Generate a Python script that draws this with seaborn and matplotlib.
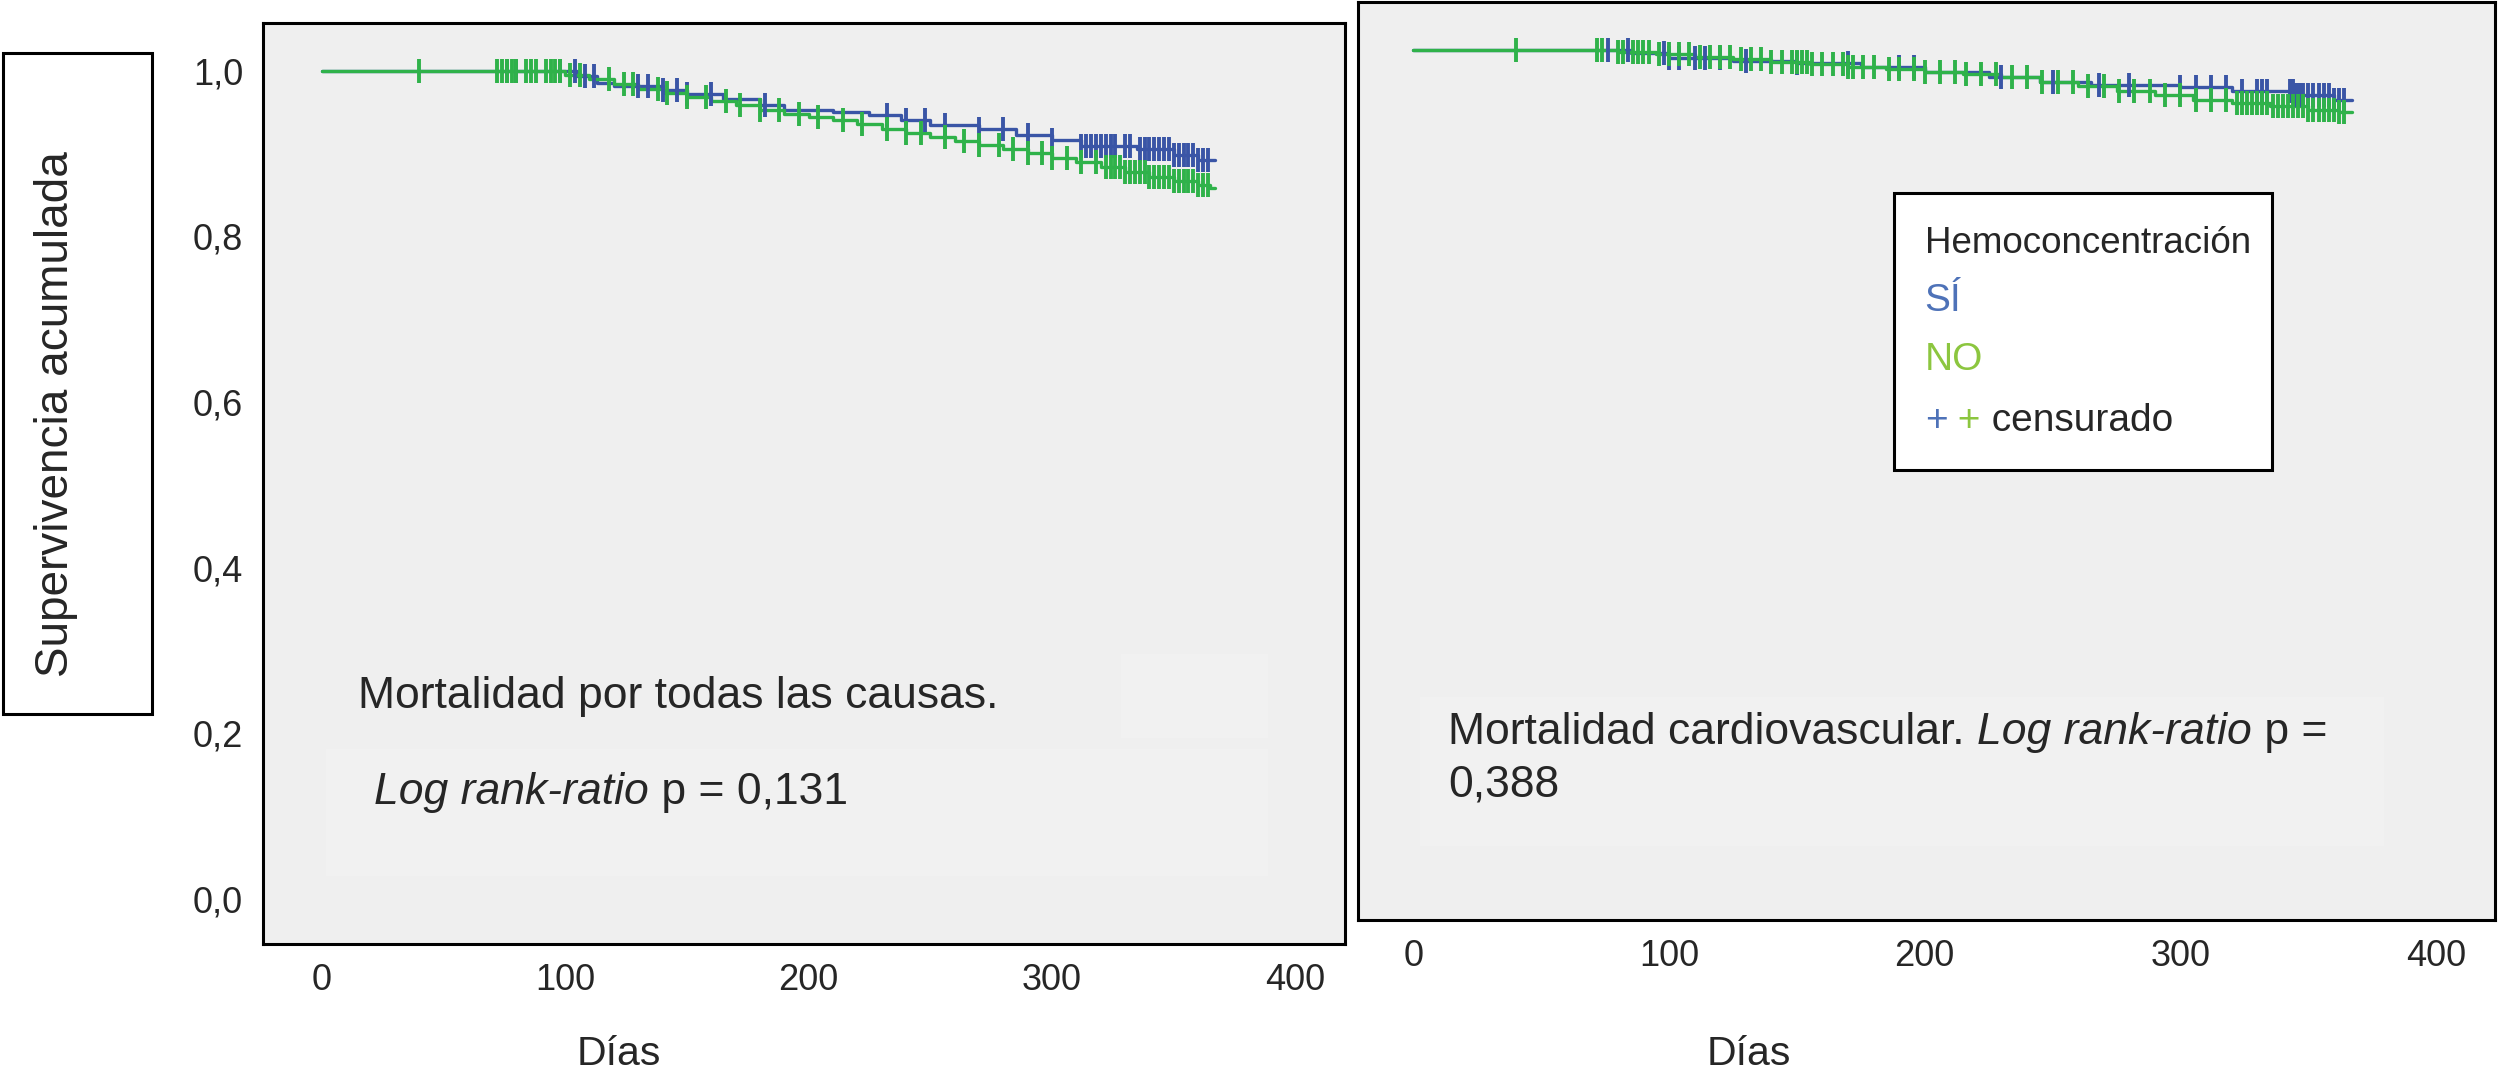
import numpy as np
import pandas as pd
import seaborn as sns
import matplotlib.pyplot as plt
from matplotlib.patches import Rectangle

sns.set_style("white")
plt.rcParams["font.family"] = ["Liberation Sans", "DejaVu Sans"]

# --- data (days, cumulative survival) ---
# panel 1: all-cause mortality
ALL_SI_T = [0, 105, 113, 120, 140, 150, 165, 180, 190, 210, 225, 238, 250, 270, 285, 300, 312, 335, 350, 360, 367]
ALL_SI_S = [1.0, 0.993, 0.985, 0.981, 0.977, 0.972, 0.966, 0.958, 0.952, 0.950, 0.946, 0.940, 0.934, 0.930,
            0.922, 0.916, 0.909, 0.905, 0.898, 0.892, 0.892]
ALL_NO_T = [0, 100, 110, 120, 130, 140, 150, 160, 170, 180, 190, 200, 210, 220, 230, 240, 250, 260, 270,
            280, 290, 300, 310, 320, 330, 340, 350, 360, 365, 367]
ALL_NO_S = [1.0, 0.995, 0.990, 0.984, 0.978, 0.973, 0.968, 0.963, 0.958, 0.953, 0.948, 0.944, 0.940, 0.935,
            0.930, 0.925, 0.920, 0.915, 0.910, 0.905, 0.900, 0.895, 0.890, 0.884, 0.878, 0.872, 0.867,
            0.862, 0.858, 0.858]
ALL_SI_CENS = [76, 80, 98, 104, 108, 112, 130, 134, 140, 146, 150, 160, 182, 232, 240, 248, 256, 270, 280,
               290, 300, 312, 314, 316, 318, 320, 322, 324, 326, 330, 332, 336, 338, 340, 342, 344, 346,
               348, 350, 352, 354, 356, 358, 360, 362, 364]
ALL_NO_CENS = [40, 72, 74, 76, 78, 80, 84, 86, 88, 92, 94, 96, 98, 102, 106, 118, 124, 128, 138, 142, 150,
               158, 166, 172, 180, 188, 196, 204, 214, 222, 232, 240, 246, 256, 264, 270, 278, 284, 290,
               296, 300, 306, 312, 318, 322, 324, 326, 328, 330, 332, 334, 336, 338, 340, 342, 344, 346,
               348, 350, 352, 354, 356, 358, 360, 362, 364]

# panel 2: cardiovascular mortality
CV_SI_T = [0, 85, 100, 125, 150, 175, 200, 225, 245, 265, 300, 320, 345, 360, 367]
CV_SI_S = [1.0, 0.996, 0.991, 0.987, 0.984, 0.979, 0.974, 0.968, 0.962, 0.958, 0.955, 0.951, 0.946,
           0.940, 0.940]
CV_NO_T = [0, 80, 95, 110, 125, 140, 155, 170, 185, 200, 215, 230, 245, 260, 275, 290, 305, 320, 335,
           350, 362, 367]
CV_NO_S = [1.0, 0.998, 0.995, 0.992, 0.989, 0.986, 0.983, 0.980, 0.977, 0.974, 0.971, 0.967, 0.962,
           0.957, 0.951, 0.946, 0.940, 0.936, 0.932, 0.928, 0.925, 0.925]
CV_SI_CENS = [76, 84, 98, 100, 104, 110, 114, 120, 130, 150, 170, 190, 196, 230, 250, 268, 280, 300, 306,
              312, 318, 324, 330, 332, 334, 343, 344, 345, 346, 347, 348, 350, 352, 354, 356, 358, 360,
              362, 364]
CV_NO_CENS = [40, 72, 74, 80, 82, 86, 88, 90, 92, 96, 100, 104, 108, 112, 116, 120, 124, 128, 132, 136,
              140, 144, 148, 150, 152, 154, 156, 160, 164, 168, 170, 172, 176, 180, 186, 190, 196, 200,
              206, 212, 216, 222, 228, 234, 240, 246, 252, 258, 264, 270, 276, 282, 288, 294, 300, 306,
              312, 318, 322, 324, 326, 328, 330, 332, 334, 336, 338, 340, 342, 344, 346, 348, 350, 352,
              354, 356, 358, 360, 362, 364]

BLUE = "#3a55a6"
GREEN = "#2fb24a"
LEG_BLUE = "#4e72b8"
LEG_GREEN = "#8cc63f"
PANEL_BG = "#efefef"
BOX_BG = "#f1f1f1"


def surv_at(t, times, surv):
    idx = np.searchsorted(times, t, side="right") - 1
    return np.asarray(surv)[idx]


def km_panel(ax, curves):
    ax.set_facecolor(PANEL_BG)
    for times, surv, cens, color in curves:
        line = pd.DataFrame({"t": times, "s": surv})
        sns.lineplot(data=line, x="t", y="s", color=color, drawstyle="steps-post",
                     estimator=None, sort=False, linewidth=2.4, ax=ax)
        marks = pd.DataFrame({"t": cens, "s": surv_at(cens, times, surv)})
        sns.scatterplot(data=marks, x="t", y="s", color=color, marker="|", s=300,
                        linewidth=2.8, ax=ax, zorder=3)
    ax.set_xlabel("")
    ax.set_ylabel("")
    for sp in ax.spines.values():
        sp.set_visible(True)
        sp.set_linewidth(2.2)
        sp.set_color("black")


fig = plt.figure(figsize=(25, 10.76), dpi=100)

ax1 = fig.add_axes([0.105, 0.123, 0.433, 0.856])
ax2 = fig.add_axes([0.543, 0.145, 0.455, 0.853])

km_panel(ax1, [(ALL_SI_T, ALL_SI_S, ALL_SI_CENS, BLUE), (ALL_NO_T, ALL_NO_S, ALL_NO_CENS, GREEN)])
km_panel(ax2, [(CV_SI_T, CV_SI_S, CV_SI_CENS, BLUE), (CV_NO_T, CV_NO_S, CV_NO_CENS, GREEN)])

yt = [0.0, 0.2, 0.4, 0.6, 0.8, 1.0]
ax1.set_xlim(-24.3, 420.3)
ax1.set_ylim(-0.054, 1.058)
ax1.set_yticks(yt)
ax1.set_yticklabels([f"{v:.1f}".replace(".", ",") for v in yt])
ax1.set_xticks([0, 100, 200, 300, 400])
ax1.tick_params(axis="both", direction="out", length=9, width=2, labelsize=26, pad=5)

ax2.set_xlim(-21.8, 423.0)
ax2.set_ylim(-0.052, 1.058)
ax2.set_yticks(yt)
ax2.set_yticklabels([])
ax2.set_xticks([0, 100, 200, 300, 400])
ax2.tick_params(axis="x", direction="out", length=9, width=2, labelsize=26, pad=5)
ax2.tick_params(axis="y", direction="out", length=6, width=2)

# faint text boxes behind the annotations
ax1.add_patch(Rectangle((0.059, 0.073), 0.87, 0.138, transform=ax1.transAxes,
                        facecolor=BOX_BG, edgecolor="none", zorder=0.5))
ax1.add_patch(Rectangle((0.793, 0.223), 0.136, 0.092, transform=ax1.transAxes,
                        facecolor=BOX_BG, edgecolor="none", zorder=0.5))
ax2.add_patch(Rectangle((0.055, 0.081), 0.847, 0.162, transform=ax2.transAxes,
                        facecolor=BOX_BG, edgecolor="none", zorder=0.5))

# annotations
ax1.text(0.0885, 0.268, "Mortalidad por todas las causas.", transform=ax1.transAxes,
         fontsize=32, va="center", ha="left")
t1 = ax1.text(0.103, 0.164, "Log rank-ratio", transform=ax1.transAxes, fontsize=32,
              style="italic", va="center", ha="left")
ax1.annotate(" p = 0,131", xy=(1, 0.5), xycoords=t1, fontsize=32, va="center", ha="left")

t2 = ax2.text(0.0798, 0.2045, "Mortalidad cardiovascular. ", transform=ax2.transAxes,
              fontsize=32, va="center", ha="left")
t3 = ax2.annotate("Log rank-ratio", xy=(1, 0.5), xycoords=t2, fontsize=32, style="italic",
                  va="center", ha="left")
ax2.annotate(" p =", xy=(1, 0.5), xycoords=t3, fontsize=32, va="center", ha="left")
ax2.text(0.0798, 0.147, "0,388", transform=ax2.transAxes, fontsize=32, va="center", ha="left")

# legend box
ax2.add_patch(Rectangle((0.472, 0.4905), 0.332, 0.3015, transform=ax2.transAxes,
                        facecolor="white", edgecolor="black", linewidth=2.2, zorder=4))
ax2.text(0.4986, 0.737, "Hemoconcentración", transform=ax2.transAxes, fontsize=26.5,
         va="center", ha="left", zorder=5)
ax2.text(0.4986, 0.674, "SÍ", transform=ax2.transAxes, fontsize=28, color=LEG_BLUE,
         va="center", ha="left", zorder=5)
ax2.text(0.4986, 0.610, "NO", transform=ax2.transAxes, fontsize=28, color=LEG_GREEN,
         va="center", ha="left", zorder=5)
p1 = ax2.text(0.4986, 0.544, "+", transform=ax2.transAxes, fontsize=28, color=LEG_BLUE,
              va="center", ha="left", zorder=5)
p2 = ax2.annotate(" +", xy=(1, 0.5), xycoords=p1, fontsize=28, color=LEG_GREEN,
                  va="center", ha="left", zorder=5)
ax2.annotate(" censurado", xy=(1, 0.5), xycoords=p2, fontsize=28, va="center", ha="left", zorder=5)

# axis titles
fig.text(0.2474, 0.0207, "Días", fontsize=29.5, ha="center", va="center")
fig.text(0.6996, 0.0207, "Días", fontsize=29.5, ha="center", va="center")

fig.patches.append(Rectangle((0.0013, 0.336), 0.0593, 0.615, transform=fig.transFigure,
                             facecolor="white", edgecolor="black", linewidth=2.2))
fig.text(0.0223, 0.615, "Supervivencia acumulada", fontsize=33, rotation=90,
         ha="center", va="center")

fig.savefig("out.png", dpi=100)
